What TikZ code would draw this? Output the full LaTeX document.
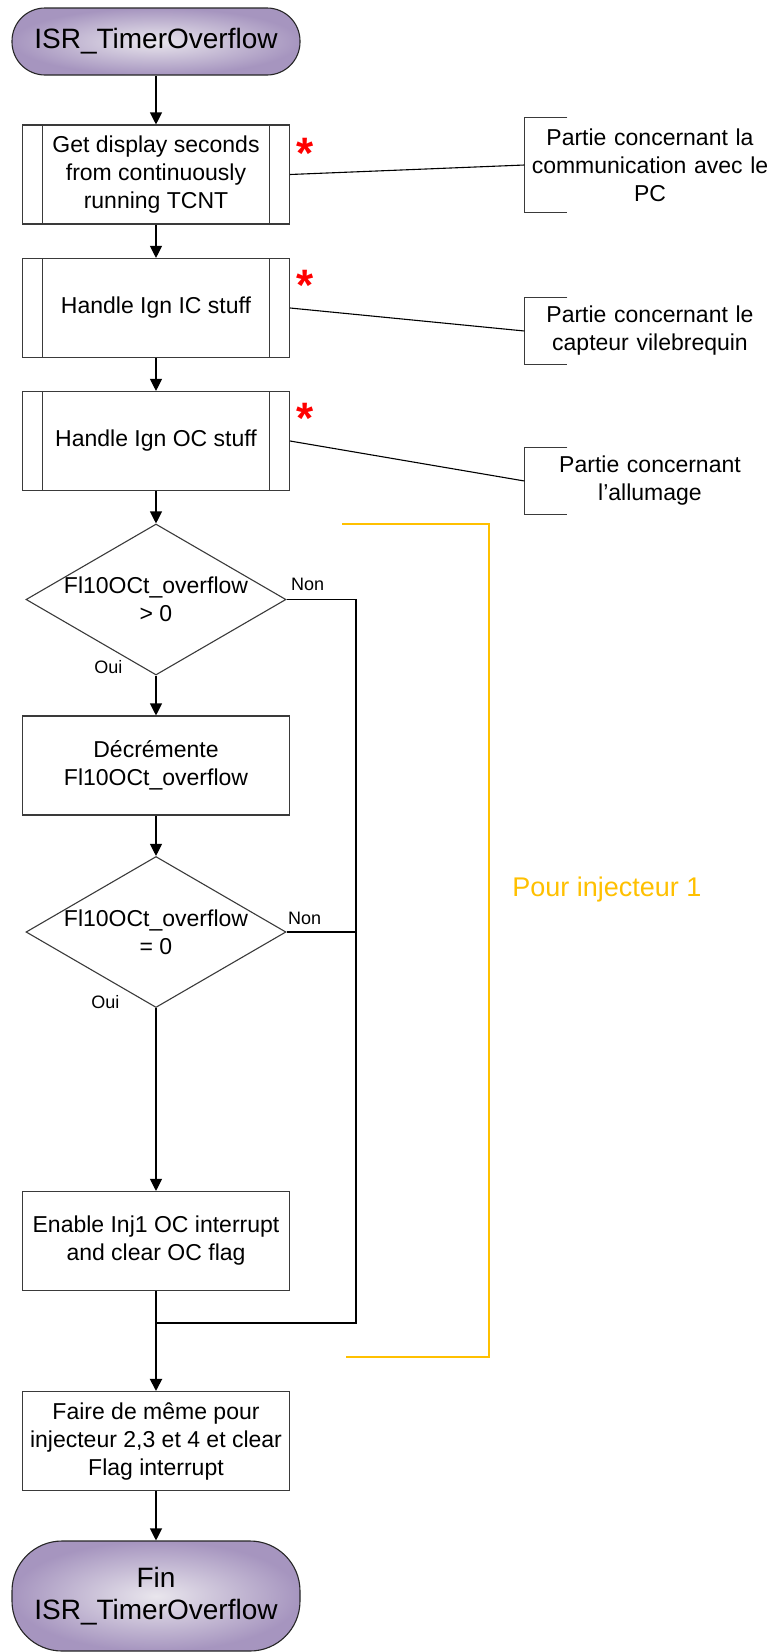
\documentclass[tikz,border=0pt]{standalone}
\usepackage{fontspec}
\setmainfont{Liberation Sans}
\usepackage{tikz}
\usepackage{xcolor}
\definecolor{termpurple}{HTML}{A695BF}
\definecolor{termlight}{HTML}{E9E6ED}
\definecolor{edgegray}{HTML}{3A3A3A}
\definecolor{groupgold}{HTML}{FFC000}
\definecolor{starred}{HTML}{FF0000}
\usetikzlibrary{arrows.meta,positioning,calc,shapes.geometric}

\begin{document}
\begin{tikzpicture}[
        x=1pt, y=-1pt, line width=1.1pt,
        font=\fontsize{23}{28}\selectfont,
        term/.style     = {draw=black!85, inner color=termlight, outer color=termpurple,
                           rounded corners=33pt, minimum width=288pt, minimum height=67pt,
                           align=center, inner sep=0pt, font=\fontsize{28}{32}\selectfont},
        proc/.style     = {draw=edgegray, fill=white, minimum width=267pt, minimum height=99pt,
                           align=center, inner sep=0pt},
        sub/.style      = {proc, path picture={
                             \draw[edgegray] ([xshift=20pt]path picture bounding box.north west)
                                 -- ([xshift=20pt]path picture bounding box.south west);
                             \draw[edgegray] ([xshift=-20pt]path picture bounding box.north east)
                                 -- ([xshift=-20pt]path picture bounding box.south east);}},
        decision/.style = {diamond, draw=edgegray, aspect=1.72, minimum width=260pt,
                           minimum height=151pt, inner sep=-5pt, align=center},
        note/.style     = {text width=250pt, inner sep=0pt, align=center},
        lbl/.style      = {font=\fontsize{18}{20}\selectfont, inner sep=0pt},
        redstar/.style  = {text=starred, font=\fontsize{44}{44}\selectfont\bfseries,
                           inner sep=0pt, anchor=north},
        flow/.style     = {-{Triangle[length=12pt, width=12pt]}, black},
        wire/.style     = {black},
        grp/.style      = {draw=groupgold, line width=1.2pt}
    ]
        \useasboundingbox (0,0) rectangle (779,1652);

        % ---- main chain ----
        \node[term] (start) at (156,41.5) {ISR\_TimerOverflow};
        \node[sub] (b1) at (156,174.5) {Get display seconds\\from continuously\\running TCNT};
        \node[sub] (b2) at (156,308) {Handle Ign IC stuff};
        \node[sub] (b3) at (156,441) {Handle Ign OC stuff};
        \node[decision] (d1) at (156,599.5) {Fl10OCt\_overflow\\> 0};
        \node[proc] (dec) at (156,765.5) {Décrémente\\Fl10OCt\_overflow};
        \node[decision] (d2) at (156,932) {Fl10OCt\_overflow\\= 0};
        \node[proc] (inj1) at (156,1241) {Enable Inj1 OC interrupt\\and clear OC flag};
        \node[proc] (rest) at (156,1441) {Faire de même pour\\injecteur 2,3 et 4 et clear\\Flag interrupt};
        \node[term, rounded corners=50pt, minimum height=110pt] (fin) at (156,1596)
            {Fin\\ISR\_TimerOverflow};

        % ---- stars ----
        \node[redstar] (s1) at (305,138) {*};
        \node[redstar] (s2) at (305,270) {*};
        \node[redstar] (s3) at (305,403) {*};

        % ---- notes ----
        \node[note, minimum height=94pt] (n1) at (650,165) {Partie concernant la\\communication avec le\\PC};
        \node[note, minimum height=66pt] (n2) at (650,331) {Partie concernant le\\capteur vilebrequin};
        \node[note, minimum height=66pt] (n3) at (650,481) {Partie concernant\\l’allumage};
        \foreach \n in {n1,n2,n3}
            \draw[edgegray] ([xshift=43pt]\n.north west) -- (\n.north west)
                -- (\n.south west) -- ([xshift=43pt]\n.south west);
        \foreach \b/\n in {b1/n1,b2/n2,b3/n3}
            \draw[wire] (\b.east) -- (\n.west);

        % ---- injector 1 group ----
        \node[font=\fontsize{27}{30}\selectfont, text=groupgold] (grplbl) at (607,890) {Pour injecteur 1};
        \draw[grp] (342,524) -- (489,524) -- (489,1357) -- (346,1357);

        % ---- links ----
        \coordinate (join) at (156,1323);
        \coordinate (merge) at (356,1323);
        \draw[flow] (start) -- (b1);
        \draw[flow] (b1) -- (b2);
        \draw[flow] (b2) -- (b3);
        \draw[flow] (b3) -- (d1);
        \draw[flow] (d1) -- (dec);
        \draw[flow] (dec) -- (d2);
        \draw[flow] (d2) -- (inj1);
        \draw[wire] (inj1.south) -- (join);
        \draw[flow, line width=2pt] (join) -- (rest);
        \draw[flow] (rest) -- (fin);
        \draw[wire] (d1.east) -| (merge) -- (join);
        \draw[wire] (d2.east) -- (d2.east -| merge);

        % ---- branch labels ----
        \node[lbl, above right=8pt and 4pt of d1.east] (non1) {Non};
        \node[lbl, above right=7pt and 1pt of d2.east] (non2) {Non};
        \node[lbl, above left=1pt and 33pt of d1.south] (oui1) {Oui};
        \node[lbl, above left=-1pt and 36pt of d2.south] (oui2) {Oui};
    \end{tikzpicture}
\end{document}
